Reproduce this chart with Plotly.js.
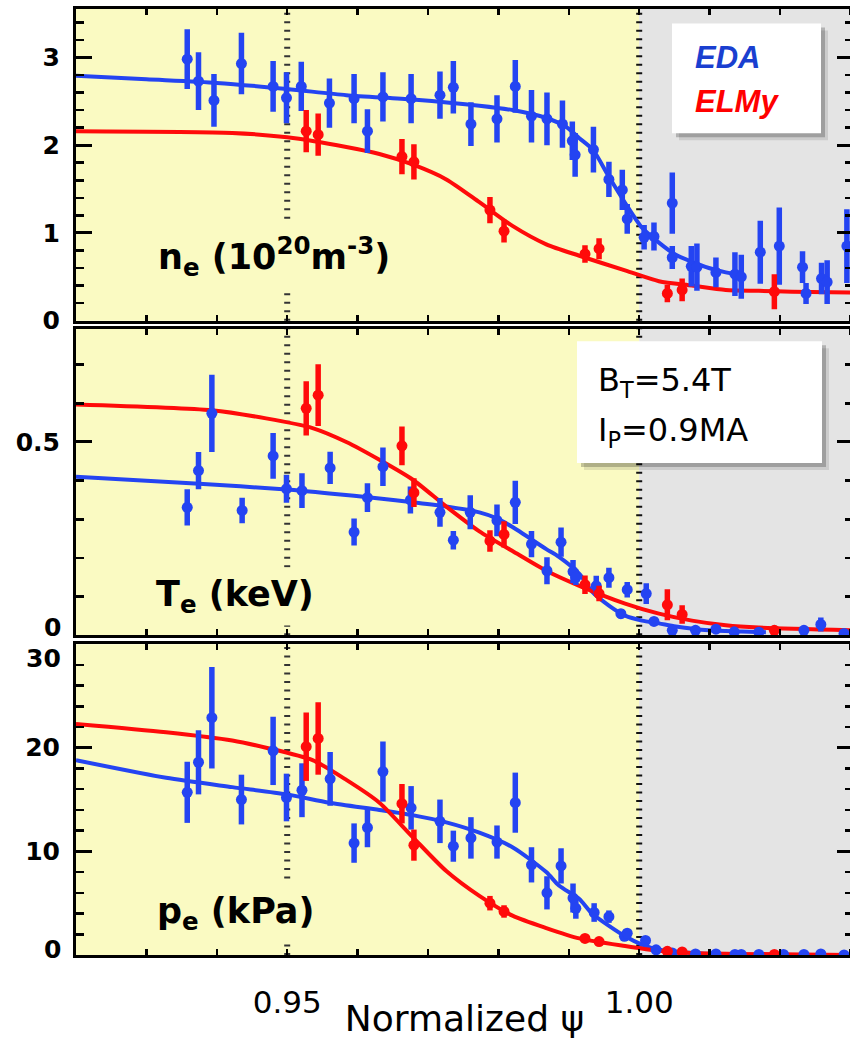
<!DOCTYPE html>
<html><head><meta charset="utf-8">
<script src="https://cdn.plot.ly/plotly-3.0.1.min.js"></script>
<style>html,body{margin:0;padding:0;overflow:hidden;background:#fff}</style>
</head><body>
<div id="chart" style="width:853px;height:1039px"></div>
<script>
// ---------- data ----------
// ELMy x positions (same in all panels)
const elmyX = [0.9527,0.9544,0.9663,0.9680,0.9788,0.9808,0.9923,0.9943,1.0040,1.0061,1.0192];

// Panel 1: n_e (10^20 m^-3)
const neEdaX = [0.9358,0.9374,0.9396,0.9435,0.9480,0.9499,0.9520,0.9560,0.9595,0.9614,0.9636,0.9676,0.9717,0.9736,0.9761,0.9798,0.9824,0.9847,0.9869,0.9891,0.9905,0.9909,0.9935,0.9957,0.9976,0.9983,1.0007,1.0021,1.0047,1.0047,1.0074,1.0082,1.0109,1.0136,1.0145,1.0172,1.0199,1.0232,1.0237,1.0259,1.0267,1.0295];
const neEdaY = [2.98,2.73,2.51,2.93,2.67,2.54,2.67,2.48,2.53,2.16,2.55,2.53,2.57,2.66,2.24,2.30,2.67,2.33,2.30,2.24,2.05,1.89,1.95,1.61,1.49,1.16,0.95,0.96,1.34,0.72,0.62,0.61,0.55,0.53,0.50,0.78,0.85,0.61,0.31,0.48,0.44,0.85];
const neEdaErr = [0.34,0.33,0.30,0.35,0.29,0.29,0.28,0.28,0.28,0.25,0.28,0.28,0.27,0.30,0.25,0.27,0.30,0.30,0.30,0.27,0.22,0.25,0.26,0.20,0.23,0.17,0.14,0.16,0.35,0.13,0.23,0.27,0.17,0.25,0.25,0.36,0.44,0.18,0.12,0.18,0.25,0.42];
const neElmyY = [2.16,2.12,1.87,1.81,1.26,1.02,0.76,0.82,0.31,0.35,0.33];
const neElmyErr = [0.24,0.24,0.20,0.20,0.15,0.13,0.10,0.12,0.10,0.13,0.20];
const neEdaFitX = [0.92,0.93,0.94,0.95,0.9584,0.9678,0.9773,0.982,0.9868,0.9896,0.9915,0.9934,0.9957,0.9981,1.0004,1.0028,1.0052,1.0075,1.0099,1.0123,1.0149];
const neEdaFitY = [2.79,2.75,2.71,2.64,2.57,2.52,2.45,2.40,2.31,2.21,2.08,1.95,1.64,1.33,1.06,0.89,0.75,0.67,0.60,0.55,0.51];
const neElmyFitX = [0.92,0.9422,0.95,0.9584,0.9631,0.9678,0.9726,0.9773,0.982,0.9868,0.9915,0.9981,1.0028,1.0075,1.0123,1.017,1.0217,1.0305];
const neElmyFitY = [2.16,2.14,2.09,1.98,1.90,1.78,1.61,1.35,1.08,0.87,0.74,0.57,0.45,0.40,0.35,0.34,0.33,0.32];

// Panel 2: T_e (keV)
const teEdaX = [0.9358,0.9374,0.9393,0.9436,0.9480,0.9499,0.9521,0.9561,0.9595,0.9614,0.9636,0.9675,0.9717,0.9736,0.9760,0.9798,0.9824,0.9847,0.9869,0.9889,0.9906,0.9910,0.9939,0.9957,0.9974,0.9983,1.0010,1.0021,1.0047,1.0080,1.0109,1.0135,1.0170,1.0234,1.0258,1.0291];
const teEdaY = [0.331,0.426,0.574,0.323,0.464,0.379,0.374,0.433,0.267,0.356,0.436,0.350,0.318,0.246,0.318,0.297,0.344,0.236,0.167,0.241,0.165,0.150,0.128,0.149,0.056,0.118,0.108,0.036,0.013,0.013,0.016,0.009,0.008,0.013,0.028,0.005];
const teEdaErr = [0.047,0.048,0.100,0.033,0.059,0.036,0.045,0.042,0.035,0.037,0.050,0.035,0.037,0.024,0.044,0.041,0.056,0.034,0.035,0.038,0.030,0.020,0.026,0.026,0.012,0.020,0.027,0.010,0.010,0.010,0.010,0.008,0.008,0.010,0.018,0.010];
const teElmyY = [0.587,0.621,0.490,0.369,0.244,0.261,0.131,0.108,0.079,0.054,0.013];
const teElmyErr = [0.070,0.080,0.050,0.037,0.028,0.034,0.024,0.020,0.040,0.024,0.010];
const teEdaFitX = [0.92,0.9375,0.9499,0.956,0.9631,0.9678,0.9726,0.9773,0.9797,0.982,0.9868,0.9886,0.9915,0.9933,0.9957,0.998,1.0004,1.0028,1.0052,1.0099,1.0146,1.018];
const teEdaFitY = [0.41,0.392,0.377,0.367,0.354,0.344,0.333,0.318,0.303,0.28,0.223,0.203,0.159,0.113,0.077,0.051,0.038,0.031,0.023,0.013,0.010,0.008];
const teElmyFitX = [0.92,0.9393,0.947,0.9536,0.9584,0.9631,0.9678,0.9726,0.9773,0.982,0.9868,0.9915,0.998,1.0028,1.0075,1.0123,1.017,1.0305];
const teElmyFitY = [0.597,0.582,0.561,0.536,0.50,0.454,0.403,0.333,0.269,0.218,0.167,0.128,0.082,0.056,0.038,0.026,0.020,0.013];

// Panel 3: p_e (kPa)
const peEdaX = [0.9358,0.9374,0.9393,0.9435,0.9480,0.9499,0.9521,0.9561,0.9595,0.9614,0.9636,0.9676,0.9717,0.9736,0.9761,0.9798,0.9824,0.9847,0.9869,0.9889,0.9906,0.9910,0.9936,0.9957,0.9979,0.9983,1.0009,1.0024,1.0047,1.0080,1.0109,1.0136,1.0145,1.0170,1.0205,1.0234,1.0258,1.0291];
const peEdaY = [15.7,18.6,22.9,15.0,19.7,15.2,15.9,17.0,10.8,12.3,17.7,14.2,12.9,10.5,11.3,10.9,14.7,8.7,6.0,8.6,5.5,4.5,4.1,3.7,1.8,2.1,1.4,0.5,0.2,0.1,0.1,0.05,0.05,0.05,0.05,0.05,0.1,0.0];
const peEdaErr = [2.95,3.1,4.9,2.4,3.3,2.3,2.6,2.6,1.9,1.9,2.9,2.1,2.1,1.5,2.0,1.6,2.9,1.7,1.6,1.7,1.4,1.0,0.9,0.6,0.4,0.4,0.3,0.2,0.1,0.1,0.1,0.1,0.1,0.1,0.1,0.1,0.1,0.1];
const peElmyY = [20.1,20.9,14.6,10.6,5.0,4.2,1.6,1.3,0.35,0.3,0.05];
const peElmyErr = [3.3,3.5,1.9,1.5,0.7,0.6,0.3,0.3,0.15,0.15,0.1];
const peEdaFitX = [0.92,0.9328,0.9422,0.9499,0.956,0.9631,0.9678,0.9726,0.9773,0.982,0.9868,0.9886,0.9915,0.9933,0.998,1.0004,1.0028,1.0075,1.017,1.0305];
const peEdaFitY = [18.8,17.1,16.2,15.5,14.7,14.0,13.5,12.8,11.8,10.4,8.0,6.7,5.4,4.0,1.8,1.0,0.5,0.2,0.0,0.0];
const peElmyFitX = [0.92,0.9328,0.9422,0.947,0.9536,0.9584,0.9631,0.9678,0.9726,0.9773,0.982,0.9868,0.9915,0.998,1.0028,1.0075,1.0305];
const peElmyFitY = [22.3,21.5,20.7,20.0,18.8,16.9,14.7,11.4,8.1,5.7,3.8,2.6,1.6,0.86,0.4,0.2,0.0];

const xTickVals = [0.95, 1.00];
const xTickText = ['0.95', '1.00'];
const seriesNames = ['EDA', 'ELMy'];
const panelLabels = ['n<sub>e</sub> (10<sup>20</sup>m<sup>-3</sup>)', 'T<sub>e</sub> (keV)', 'p<sub>e</sub> (kPa)'];
const paramLines = ['B<sub>T</sub>=5.4T', 'I<sub>P</sub>=0.9MA'];

// ---------- styling ----------
const BLUE = '#2444f2', RED = '#ff0a0a';
const YELLOW = '#fafac2', GRAY = '#e4e4e4';
const X0 = 0.92, X1 = 1.03037;
const PW = 777, PH = 947, PB = 955.5, PL = 76;   // plot-area size (px) for paper coords
const px2x = p => (p - PL) / PW;
const px2y = p => (PB - p) / PH;

function fit(x, y, color, xa, ya) {
  return {x, y, xaxis: xa, yaxis: ya, type: 'scatter', mode: 'lines',
    line: {color, width: 4, shape: 'spline', smoothing: 0.7}, hoverinfo: 'skip', showlegend: false};
}
function pts(x, y, err, color, xa, ya) {
  return {x, y, xaxis: xa, yaxis: ya, type: 'scatter', mode: 'markers',
    marker: {color, size: 11, symbol: 'circle'},
    error_y: {type: 'data', array: err, visible: true, color, thickness: 5.5, width: 0},
    showlegend: false};
}

const data = [
  fit(neEdaFitX, neEdaFitY, BLUE, 'x', 'y'),
  fit(neElmyFitX, neElmyFitY, RED, 'x', 'y'),
  pts(neEdaX, neEdaY, neEdaErr, BLUE, 'x', 'y'),
  pts(elmyX, neElmyY, neElmyErr, RED, 'x', 'y'),
  fit(teEdaFitX, teEdaFitY, BLUE, 'x2', 'y2'),
  fit(teElmyFitX, teElmyFitY, RED, 'x2', 'y2'),
  pts(teEdaX, teEdaY, teEdaErr, BLUE, 'x2', 'y2'),
  pts(elmyX, teElmyY, teElmyErr, RED, 'x2', 'y2'),
  fit(peEdaFitX, peEdaFitY, BLUE, 'x3', 'y3'),
  fit(peElmyFitX, peElmyFitY, RED, 'x3', 'y3'),
  pts(peEdaX, peEdaY, peEdaErr, BLUE, 'x3', 'y3'),
  pts(elmyX, peElmyY, peElmyErr, RED, 'x3', 'y3')
];

const axBase = {showline: true, linecolor: 'black', linewidth: 3, mirror: 'ticks',
  ticks: 'inside', tickcolor: 'black', showgrid: false, zeroline: false, fixedrange: true};
const tickFontY = {family: 'DejaVu Sans', size: 25, color: 'black', weight: 'bold'};

function xAx(anchor, labels) {
  const a = Object.assign({}, axBase, {anchor, domain: [0, 1], range: [X0, X1],
    tickvals: xTickVals, ticktext: xTickText, ticklen: 6, tickwidth: 2.5,
    minor: {dtick: 0.01, tick0: 0, ticks: 'inside', ticklen: 6, tickwidth: 2.5, tickcolor: 'black'},
    showticklabels: labels});
  if (labels) {
    a.tickfont = {family: 'DejaVu Sans', size: 31, color: 'black'};
    a.ticklabelstandoff = 18;
    a.title = {text: 'Normalized ψ', font: {family: 'DejaVu Sans', size: 36, color: 'black'}, standoff: 0};
    a.automargin = false;
  }
  return a;
}
function yAx(anchor, domain, range, mdtick, tickvals) {
  return Object.assign({}, axBase, {anchor, domain, range, tickvals, ticklen: 16, tickwidth: 3,
    minor: {dtick: mdtick, tick0: 0, ticks: 'inside', ticklen: 8, tickwidth: 2.5, tickcolor: 'black'},
    tickfont: tickFontY, ticklabelstandoff: 8});
}

// panel edges in px: P1 8.5-320.5, P2 328.5-635.5, P3 644.5-955.5
const yDomains = [[px2y(320.5), 1], [px2y(635.5), px2y(328.5)], [0, px2y(644.5)]];
const shapes = [];
[['x','y'],['x2','y2'],['x3','y3']].forEach(([xa, ya]) => {
  shapes.push({type: 'rect', xref: xa, yref: ya + ' domain', x0: X0 - 0.01, x1: 1.0, y0: 0, y1: 1,
    fillcolor: YELLOW, line: {width: 0}, layer: 'below'});
  shapes.push({type: 'rect', xref: xa, yref: ya + ' domain', x0: 1.0, x1: X1 + 0.01, y0: 0, y1: 1,
    fillcolor: GRAY, line: {width: 0}, layer: 'below'});
  [0.95, 1.0].forEach(v => shapes.push({type: 'line', xref: xa, yref: ya + ' domain', x0: v, x1: v, y0: 0, y1: 1,
    line: {color: v === 1.0 ? '#111' : '#333', width: 6, dash: '2px,6.5px'}, layer: 'below'}));
});
// boxes (shadow + white box), given in px
function box(l, r, t, b) {
  shapes.push({type: 'rect', xref: 'paper', yref: 'paper', x0: px2x(l + 7), x1: px2x(r + 7), y0: px2y(b + 7), y1: px2y(t + 7),
    fillcolor: 'rgba(0,0,0,0.10)', line: {width: 0}, layer: 'above'});
  shapes.push({type: 'rect', xref: 'paper', yref: 'paper', x0: px2x(l + 4), x1: px2x(r + 4), y0: px2y(b + 4), y1: px2y(t + 4),
    fillcolor: 'rgba(0,0,0,0.22)', line: {width: 0}, layer: 'above'});
  shapes.push({type: 'rect', xref: 'paper', yref: 'paper', x0: px2x(l), x1: px2x(r), y0: px2y(b), y1: px2y(t),
    fillcolor: 'white', line: {width: 0}, layer: 'above'});
}
box(672, 821, 23, 133);
box(577, 822, 341, 463);

function ann(text, xp, yp, xanchor, font, extra) {
  return Object.assign({xref: 'paper', yref: 'paper', x: px2x(xp), y: px2y(yp), xanchor, yanchor: 'middle',
    showarrow: false, text, font}, extra || {});
}
const labFont = {family: 'DejaVu Sans', size: 35, color: 'black'};
const annotations = [
  ann('<b><i>' + seriesNames[0] + '</i></b>', 693, 57, 'left', {family: 'Liberation Sans', size: 31, color: '#1a3fd0'}),
  ann('<b><i>' + seriesNames[1] + '</i></b>', 693, 101, 'left', {family: 'Liberation Sans', size: 31, color: '#ff0000'}),
  ann(paramLines[0], 596, 382, 'left', {family: 'DejaVu Sans', size: 32, color: 'black'}),
  ann(paramLines[1], 596, 432, 'left', {family: 'DejaVu Sans', size: 32, color: 'black'}),
  ann('<b>' + panelLabels[0] + '</b>', 151, 256, 'left', labFont, {bgcolor: YELLOW, borderpad: 6}),
  ann('<b>' + panelLabels[1] + '</b>', 149, 597, 'left', labFont, {bgcolor: YELLOW, borderpad: 6}),
  ann('<b>' + panelLabels[2] + '</b>', 150, 914, 'left', labFont, {bgcolor: YELLOW, borderpad: 6}),
  // edge tick labels drawn nudged, as in the reference
  ann('0', 62, 628, 'right', tickFontY, {borderpad: 0}),
  ann('30', 62, 659, 'right', tickFontY, {borderpad: 0}),
  ann('0', 62, 950, 'right', tickFontY, {borderpad: 0})
];

const layout = {
  width: 853, height: 1039,
  margin: {l: PL, r: 0, t: 8.5, b: 1039 - PB},
  paper_bgcolor: 'white', plot_bgcolor: 'rgba(0,0,0,0)',
  showlegend: false,
  xaxis: xAx('y', false),
  xaxis2: xAx('y2', false),
  xaxis3: xAx('y3', true),
  yaxis: yAx('x', yDomains[0], [0, 3.552], 0.2, [0, 1, 2, 3]),
  yaxis2: yAx('x2', yDomains[1], [0, 0.793], 0.1, [0.5]),
  yaxis3: yAx('x3', yDomains[2], [0, 29.98], 2, [10, 20]),
  shapes, annotations
};

Plotly.newPlot('chart', data, layout, {displayModeBar: false, staticPlot: true});
</script>
</body></html>
